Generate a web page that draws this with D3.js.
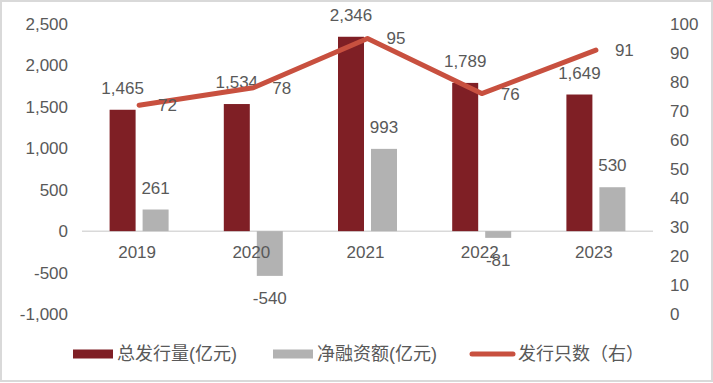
<!DOCTYPE html>
<html>
<head>
<meta charset="utf-8">
<script src="https://cdn.jsdelivr.net/npm/d3@7"></script>
<style>
  body { margin: 0; background: #fff; }
  svg text { font-family: "Liberation Sans", "Noto Sans CJK SC", sans-serif; fill: #595959; }
</style>
</head>
<body>
<svg id="chart" width="713" height="383"></svg>
<script>
// chart data
const years = ['2019', '2020', '2021', '2022', '2023'];
const totalIssue = [1465, 1534, 2346, 1789, 1649];
const netFinance = [261, -540, 993, -81, 530];
const issueCount = [72, 78, 95, 76, 91];
const leftTicks = [-1000, -500, 0, 500, 1000, 1500, 2000, 2500];
const rightTicks = [0, 10, 20, 30, 40, 50, 60, 70, 80, 90, 100];
const legendLabels = ['总发行量(亿元)', '净融资额(亿元)', '发行只数（右）'];

const svg = d3.select('#chart');
const width = 713, height = 383;
const margin = { top: 24, right: 60, bottom: 69, left: 82 };
const fontSize = 17;

const darkRed = '#7f1f25';
const grey = '#b2b2b2';
const lineRed = '#c8503f';

// outer frame
svg.append('rect')
    .attr('x', 1).attr('y', 1)
    .attr('width', width - 2).attr('height', height - 3)
    .attr('fill', '#fff')
    .attr('stroke', '#d9d9d9')
    .attr('stroke-width', 2);

const x = d3.scaleBand()
    .domain(years)
    .range([margin.left, width - margin.right]);

const yLeft = d3.scaleLinear()
    .domain([-1000, 2500])
    .range([height - margin.bottom, margin.top]);

const yRight = d3.scaleLinear()
    .domain([0, 100])
    .range([height - margin.bottom, margin.top]);

const barW = 26, barGap = 7;
const fmt = d3.format(',');
const cx = d => x(d) + x.bandwidth() / 2;

// left axis labels
svg.append('g')
    .selectAll('text')
    .data(leftTicks)
    .enter()
    .append('text')
    .attr('x', 68)
    .attr('y', d => yLeft(d))
    .attr('dy', '0.35em')
    .attr('text-anchor', 'end')
    .style('font-size', fontSize + 'px')
    .text(d => fmt(d).replace('−', '-'));

// right axis labels
svg.append('g')
    .selectAll('text')
    .data(rightTicks)
    .enter()
    .append('text')
    .attr('x', 670)
    .attr('y', d => yRight(d))
    .attr('dy', '0.35em')
    .attr('text-anchor', 'start')
    .style('font-size', fontSize + 'px')
    .text(d => d);

// zero line
svg.append('line')
    .attr('x1', x.range()[0])
    .attr('x2', x.range()[1])
    .attr('y1', yLeft(0))
    .attr('y2', yLeft(0))
    .attr('stroke', '#d9d9d9')
    .attr('stroke-width', 1.5);

// total issuance bars
svg.append('g')
    .selectAll('rect')
    .data(years)
    .enter()
    .append('rect')
    .attr('x', d => cx(d) - barGap / 2 - barW)
    .attr('y', (d, i) => yLeft(totalIssue[i]))
    .attr('width', barW)
    .attr('height', (d, i) => yLeft(0) - yLeft(totalIssue[i]))
    .attr('fill', darkRed);

// net financing bars
svg.append('g')
    .selectAll('rect')
    .data(years)
    .enter()
    .append('rect')
    .attr('x', d => cx(d) + barGap / 2)
    .attr('y', (d, i) => yLeft(Math.max(0, netFinance[i])))
    .attr('width', barW)
    .attr('height', (d, i) => Math.abs(yLeft(0) - yLeft(netFinance[i])))
    .attr('fill', grey);

// category labels (drawn over the bars)
svg.append('g')
    .selectAll('text')
    .data(years)
    .enter()
    .append('text')
    .attr('x', d => cx(d) - 2)
    .attr('y', yLeft(0) + 27)
    .attr('text-anchor', 'middle')
    .style('font-size', fontSize + 'px')
    .text(d => d);

// bar labels
svg.append('g')
    .selectAll('text')
    .data(years)
    .enter()
    .append('text')
    .attr('x', d => cx(d) - barGap / 2 - barW / 2)
    .attr('y', (d, i) => yLeft(totalIssue[i]) - 16)
    .attr('text-anchor', 'middle')
    .style('font-size', fontSize + 'px')
    .text((d, i) => fmt(totalIssue[i]));

svg.append('g')
    .selectAll('text')
    .data(years)
    .enter()
    .append('text')
    .attr('x', d => cx(d) + barGap / 2 + barW / 2)
    .attr('y', (d, i) => netFinance[i] >= 0 ? yLeft(netFinance[i]) - 16 : yLeft(netFinance[i]) + 28)
    .attr('text-anchor', 'middle')
    .style('font-size', fontSize + 'px')
    .text((d, i) => fmt(netFinance[i]).replace('−', '-'));

// issue count line
const line = d3.line()
    .x(d => cx(d))
    .y((d, i) => yRight(issueCount[i]));

svg.append('path')
    .datum(years)
    .attr('d', line)
    .attr('fill', 'none')
    .attr('stroke', lineRed)
    .attr('stroke-width', 5)
    .attr('stroke-linecap', 'round')
    .attr('stroke-linejoin', 'round');

svg.append('g')
    .selectAll('text')
    .data(years)
    .enter()
    .append('text')
    .attr('x', d => cx(d) + 19)
    .attr('y', (d, i) => yRight(issueCount[i]))
    .attr('dy', '0.35em')
    .attr('text-anchor', 'start')
    .style('font-size', fontSize + 'px')
    .text((d, i) => issueCount[i]);

// legend
const legendY = 354;
const legendFont = 18;
const legend = svg.append('g');
legend.append('rect')
    .attr('x', 73).attr('y', legendY - 4.5)
    .attr('width', 40).attr('height', 9)
    .attr('fill', darkRed);
legend.append('text')
    .attr('x', 117).attr('y', legendY)
    .attr('dy', '0.35em')
    .style('font-size', legendFont + 'px')
    .text(legendLabels[0]);

legend.append('rect')
    .attr('x', 273).attr('y', legendY - 4.5)
    .attr('width', 40).attr('height', 9)
    .attr('fill', grey);
legend.append('text')
    .attr('x', 317).attr('y', legendY)
    .attr('dy', '0.35em')
    .style('font-size', legendFont + 'px')
    .text(legendLabels[1]);

legend.append('line')
    .attr('x1', 472).attr('x2', 513)
    .attr('y1', legendY).attr('y2', legendY)
    .attr('stroke', lineRed)
    .attr('stroke-width', 5)
    .attr('stroke-linecap', 'round');
legend.append('text')
    .attr('x', 518).attr('y', legendY)
    .attr('dy', '0.35em')
    .style('font-size', legendFont + 'px')
    .text(legendLabels[2]);
</script>
</body>
</html>
